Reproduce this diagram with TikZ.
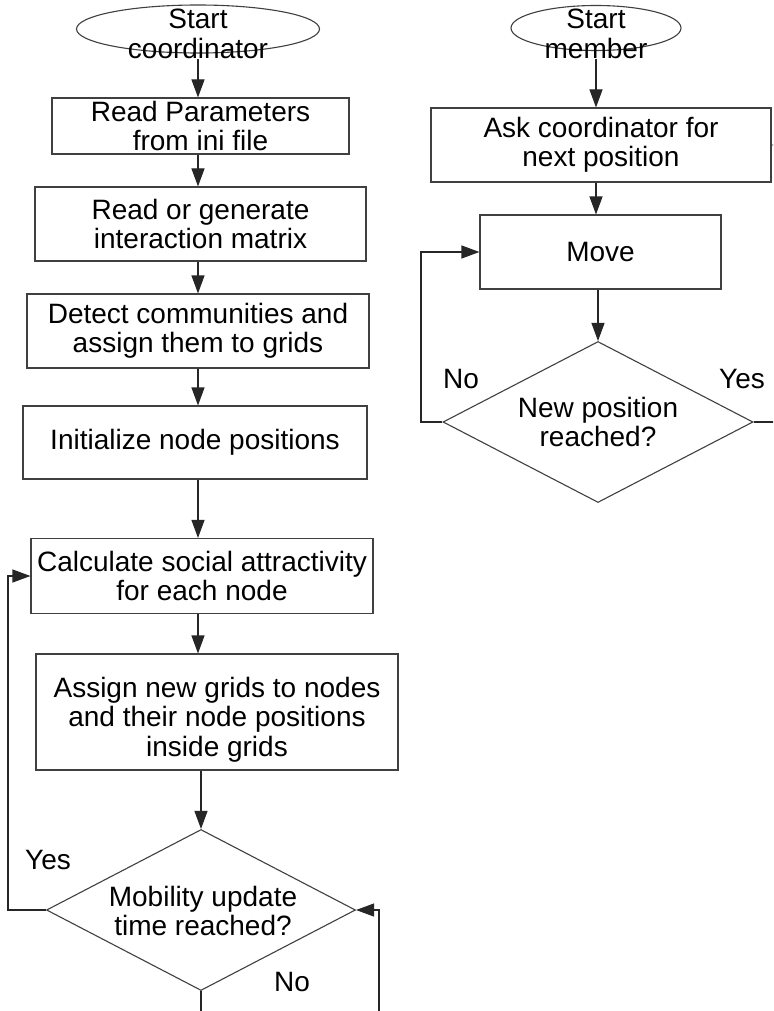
\documentclass[tikz,border=0pt]{standalone}
\usepackage{fontspec}
\setmainfont{Liberation Sans}
\usetikzlibrary{shapes.geometric,arrows.meta}
\begin{document}
\begin{tikzpicture}[x=1pt,y=-1pt,
  every node/.style={font=\fontsize{28}{29.5}\selectfont, text=black},
  box/.style={draw=black!75, line width=1.1pt, rectangle, inner sep=0pt, align=center},
  ell/.style={draw=black!75, line width=1.1pt, ellipse, inner sep=0pt},
  dia/.style={draw=black!75, line width=1.1pt, diamond, inner sep=0pt},
  txt/.style={align=center, inner sep=0pt},
  arr/.style={draw=black!85, line width=1.1pt, -{Triangle[length=18pt,width=13pt]}},
  ln/.style={draw=black!85, line width=1.1pt}]
\useasboundingbox (0,0) rectangle (773,1011);
\fill[white] (0,0) rectangle (773,1011);
\clip (0,0) rectangle (773,1011);

% left column
\node[ell, minimum width=243pt, minimum height=48pt] (sc) at (198,29) {};
\node[txt] (sct) at (198,34) {Start\\coordinator};
\node[box, minimum width=297pt, minimum height=56pt] (b1) at (200.5,126) {Read Parameters\\from ini file};
\node[box, minimum width=331pt, minimum height=74pt] (b2) at (200.5,224) {Read or generate\\interaction matrix};
\node[box, minimum width=342pt, minimum height=74pt] (b3) at (198,331) {Detect communities and\\assign them to grids};
\node[box, minimum width=344pt, minimum height=73pt] (b4) at (195,442.5) {Initialize node positions};
\node[box, minimum width=342pt, minimum height=75pt] (b5) at (202,576) {Calculate social attractivity\\for each node};
\node[box, minimum width=362pt, minimum height=116pt, text height=88pt, text depth=0pt] (b6) at (217,712) {Assign new grids to nodes\\and their node positions\\inside grids};
\node[dia, minimum width=309pt, minimum height=161pt] (d1) at (201,910) {};
\node[txt] (d1t) at (203,911) {Mobility update\\time reached?};
\node[txt] (yes1) at (48,860) {Yes};
\node[txt] (no1) at (292,982) {No};

% right column
\node[ell, minimum width=170pt, minimum height=45pt] (sm) at (596,28) {};
\node[txt] (smt) at (596,34) {Start\\member};
\node[box, minimum width=340pt, minimum height=74pt] (ask) at (601,145) {Ask coordinator for\\next position};
\node[box, minimum width=241pt, minimum height=74pt] (move) at (600.5,252) {Move};
\node[dia, minimum width=310pt, minimum height=161pt] (d2) at (598,422) {};
\node[txt] (d2t) at (598,422) {New position\\reached?};
\node[txt] (no2) at (461,379) {No};
\node[txt] (yes2) at (742,379) {Yes};

% coordinates for free ends
\coordinate (yl) at (8,0);
\coordinate (bl) at (201,1025);
\coordinate (br) at (379,1025);
\coordinate (nl) at (421,0);
\coordinate (er) at (790,0);
\coordinate (ei) at (800,145);

% left connectors
\draw[arr] (sct.south) -- (sct.south |- b1.north);
\draw[arr] (sct.south |- b1.south) -- (sct.south |- b2.north);
\draw[arr] (sct.south |- b2.south) -- (sct.south |- b3.north);
\draw[arr] (sct.south |- b3.south) -- (sct.south |- b4.north);
\draw[arr] (sct.south |- b4.south) -- (sct.south |- b5.north);
\draw[arr] (sct.south |- b5.south) -- (sct.south |- b6.north);
\draw[arr] (d1.north |- b6.south) -- (d1.north);
\draw[arr] (d1.west) -- (d1.west -| yl) |- (b5.west);
\draw[ln] (d1.south) -- (d1.south |- bl);
\draw[arr] (br) |- (d1.east);

% right connectors
\draw[arr] (smt.south) -- (smt.south |- ask.north);
\draw[arr] (smt.south |- ask.south) -- (smt.south |- move.north);
\draw[arr] (d2.north |- move.south) -- (d2.north);
\draw[arr] (d2.west) -- (d2.west -| nl) |- (move.west);
\draw[ln] (d2.east) -- (d2.east -| er);
\draw[arr] (ei) -- (ask.east);
\end{tikzpicture}
\end{document}
